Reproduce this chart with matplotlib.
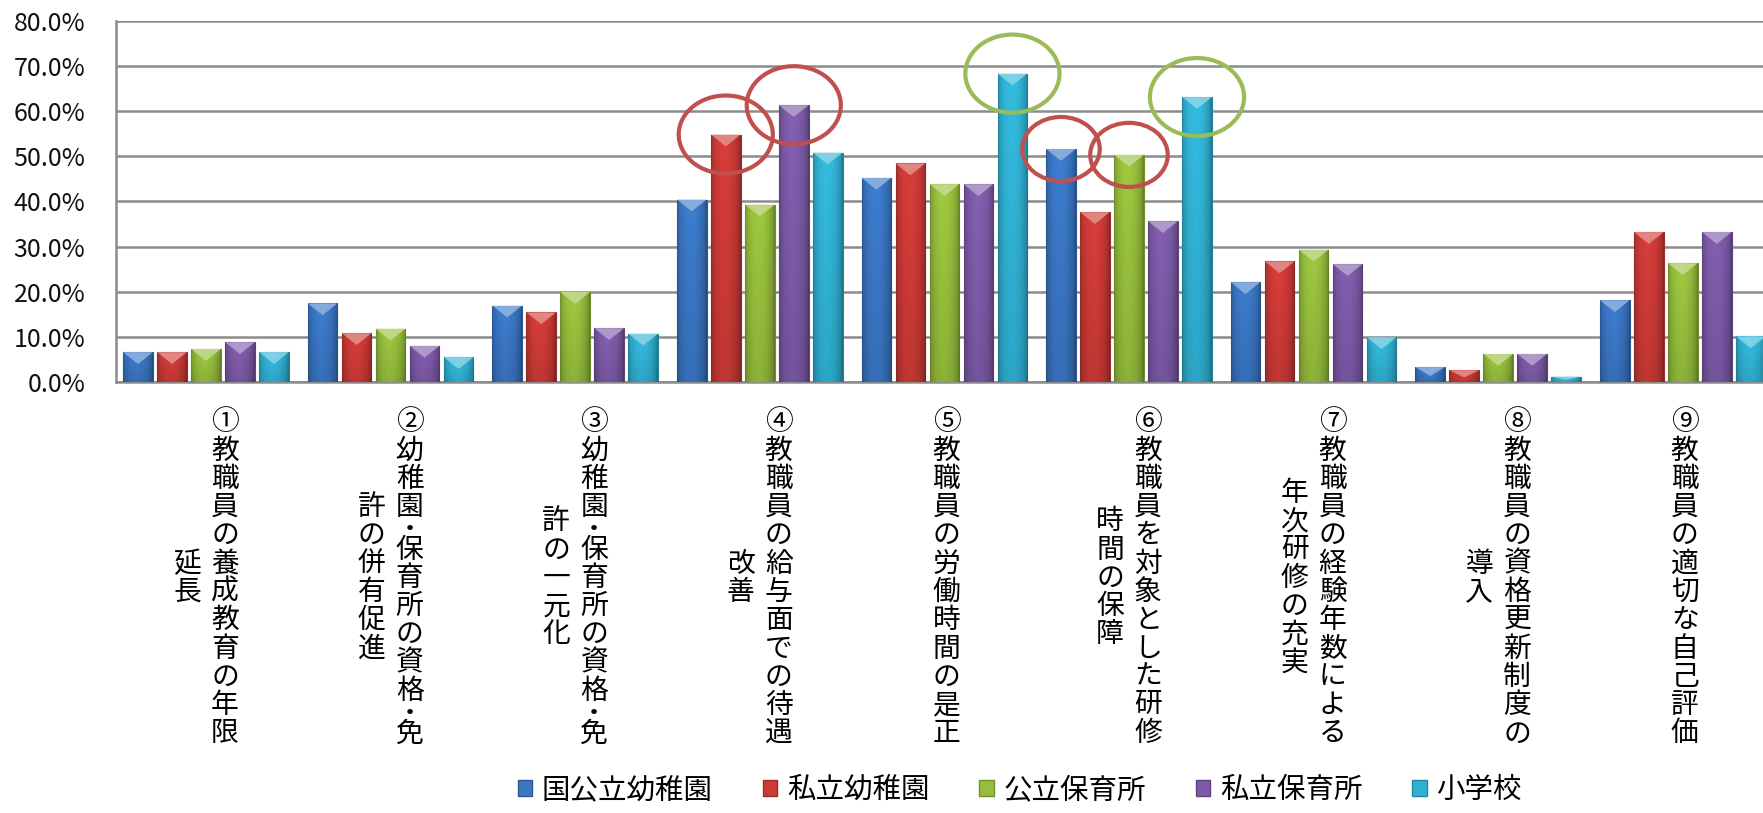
import numpy as np
import matplotlib
matplotlib.use("Agg")
import matplotlib.pyplot as plt
from matplotlib import transforms
from matplotlib.patches import Ellipse, Polygon, Patch
from matplotlib.ticker import FuncFormatter

plt.rcParams['font.family'] = ['Noto Sans CJK JP', 'DejaVu Sans']

# survey items (each label is drawn as two vertical columns)
items_col1 = [
    "①教職員の養成教育の年限",
    "②幼稚園・保育所の資格・免",
    "③幼稚園・保育所の資格・免",
    "④教職員の給与面での待遇",
    "⑤教職員の労働時間の是正",
    "⑥教職員を対象とした研修",
    "⑦教職員の経験年数による",
    "⑧教職員の資格更新制度の",
    "⑨教職員の適切な自己評価",
]
items_col2 = ["延長", "許の併有促進", "許の一元化", "改善", "", "時間の保障", "年次研修の充実", "導入", ""]

series = ["国公立幼稚園", "私立幼稚園", "公立保育所", "私立保育所", "小学校"]

# percentages per item
kokukouritsu_yochien = [6.6, 17.4, 16.9, 40.4, 45.2, 51.6, 22.1, 3.3, 18.1]
shiritsu_yochien     = [6.6, 10.8, 15.4, 54.8, 48.4, 37.6, 26.7, 2.6, 33.2]
kouritsu_hoikusho    = [7.3, 11.8, 19.9, 39.3, 43.8, 50.3, 29.3, 6.2, 26.3]
shiritsu_hoikusho    = [8.8, 8.0, 11.9, 61.3, 43.8, 35.6, 26.1, 6.2, 33.2]
shogakko             = [6.6, 5.5, 10.7, 50.8, 68.3, 63.1, 9.9, 1.2, 10.1]

values = [kokukouritsu_yochien, shiritsu_yochien, kouritsu_hoikusho,
          shiritsu_hoikusho, shogakko]

# highlighted bars: (item index, series index)
red_rings = [(3, 1), (3, 3), (5, 0), (5, 2)]
green_rings = [(4, 4), (5, 4)]

colors = ["#3A76C4", "#CD3A36", "#96BE3C", "#7D5AA8", "#30B2D4"]

fig = plt.figure(figsize=(17.63, 8.13), dpi=100)
ax = fig.add_axes([116 / 1763, 1 - 382 / 813, 1 - 116 / 1763, 361.2 / 813])

n = len(items_col1)
x = np.arange(n)
pitch = 0.1842
width = 0.160


def shade(base, nx=40, ny=60):
    # cylinder-like shading: darker edges, lighter towards the top
    rgb = np.array(matplotlib.colors.to_rgb(base))
    xs = np.linspace(0, 1, nx)
    ys = np.linspace(0, 1, ny)[:, None]
    f = 0.74 + 0.36 * np.sin(np.pi * xs) ** 0.5 - 0.08 * xs
    g = 0.88 + 0.12 * ys
    img = rgb[None, None, :] * (f[None, :, None] * g[:, :, None])
    return np.clip(img, 0, 1)


for j, (vals, col) in enumerate(zip(values, colors)):
    xs = x + (j - 2) * pitch
    dark = np.array(matplotlib.colors.to_rgb(col)) * 0.75
    bars = ax.bar(xs, vals, width, color=col, edgecolor=dark, linewidth=0.8, zorder=3)
    light = np.array(matplotlib.colors.to_rgb(col))
    light = light + (1 - light) * 0.45
    img = shade(col)
    for b, v in zip(bars, vals):
        x0 = b.get_x()
        x1 = x0 + b.get_width()
        im = ax.imshow(img, extent=[x0, x1, 0, v], origin='lower',
                       aspect='auto', zorder=3.1, interpolation='bilinear')
        im.set_clip_path(b)
        d = min(2.6, 0.6 * v)
        tri = Polygon([[x0, v], [x1, v], [(x0 + x1) / 2, v - d]], closed=True,
                      facecolor=light, edgecolor='none', alpha=0.85, zorder=3.2)
        ax.add_patch(tri)

# rings around highlighted bars
for rings, ring_col in ((red_rings, "#C0504D"), (green_rings, "#9BBB59")):
    for gi, sj in rings:
        cx = x[gi] + (sj - 2) * pitch
        cy = values[sj][gi]
        small = (gi, sj) in [(5, 0), (5, 2)]
        w = 0.42 if small else 0.51
        h = 14.2 if small else 17.3
        ax.add_patch(Ellipse((cx, cy), w, h, fill=False, edgecolor=ring_col,
                             linewidth=3.0, zorder=5, clip_on=False))

ax.set_xlim(-0.4875, -0.4875 + 1647 / 184.6)
ax.set_ylim(0, 80)
ax.set_yticks(np.arange(0, 81, 10))
ax.yaxis.set_major_formatter(FuncFormatter(lambda v, p: f"{v:.1f}%"))
ax.set_xticks([])
ax.tick_params(axis='y', length=0, pad=22, labelsize=18, labelcolor='#111111')
ax.yaxis.grid(True, color='#8C8C8C', linewidth=1.8, zorder=0)
ax.set_axisbelow(True)
for side in ('top', 'right'):
    ax.spines[side].set_visible(False)
for side in ('left', 'bottom'):
    ax.spines[side].set_color('#8C8C8C')
    ax.spines[side].set_linewidth(1.8)

# vertical item labels, one glyph at a time
trans = transforms.blended_transform_factory(ax.transData, fig.transFigure)
char_pitch = 28.3
top_px = 408


def advance(ch):
    return 0.5 if ch == "・" else 1.0


def draw_column(text, xc, dx_px, start_px):
    t = transforms.offset_copy(trans, fig=fig, x=dx_px * 72 / 100, units='points')
    cur = start_px
    for ch in text:
        a = advance(ch)
        cy = cur + a * char_pitch / 2
        if ch == "・":
            # the separator dot only takes half a cell in vertical setting
            ax.text(xc, 1 - cy / 813, "●", transform=t, ha='center', va='center',
                    fontsize=4.5, color='black')
        else:
            ax.text(xc, 1 - cy / 813, ch, transform=t, ha='center', va='center',
                    fontsize=20, color='black')
        cur += a * char_pitch


for i in range(n):
    c1, c2 = items_col1[i], items_col2[i]
    len1 = sum(advance(c) for c in c1) * char_pitch
    if c2:
        len2 = sum(advance(c) for c in c2) * char_pitch
        draw_column(c1, x[i], 19, top_px)
        draw_column(c2, x[i], -19, top_px + (len1 - len2) / 2)
    else:
        draw_column(c1, x[i], 2, top_px)

handles = [Patch(facecolor=c, edgecolor=np.array(matplotlib.colors.to_rgb(c)) * 0.75)
           for c in colors]
fig.legend(handles, series, loc='center', bbox_to_anchor=(0.5785, 0.028),
           ncol=5, frameon=False, fontsize=20.5, handlelength=0.5, handleheight=0.5,
           handletextpad=0.35, columnspacing=1.75, borderpad=0.1)

fig.savefig('out.png', dpi=100)
